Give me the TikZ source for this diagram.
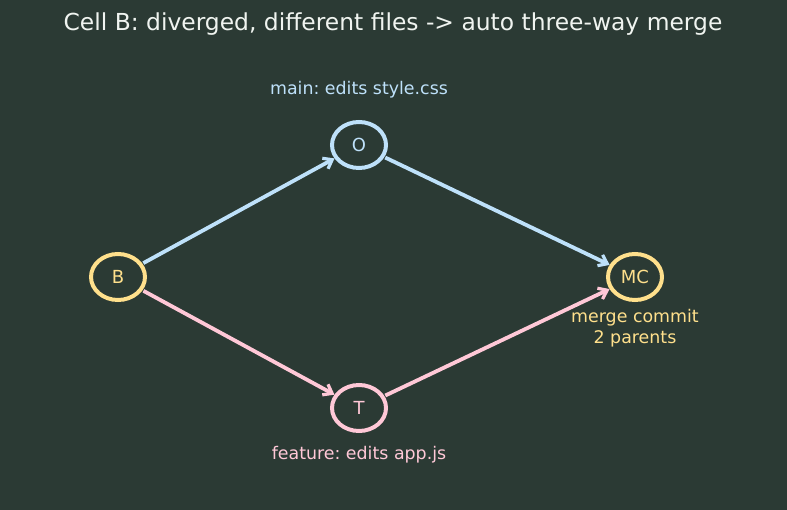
\documentclass[tikz,border=0pt]{standalone}
\usepackage{fontspec}
\setmainfont{DejaVu Sans}
\frenchspacing
\usetikzlibrary{arrows.meta,shapes.geometric}
\definecolor{bgc}{RGB}{43,58,52}
\definecolor{yel}{RGB}{255,224,140}
\definecolor{blu}{RGB}{190,225,250}
\definecolor{pnk}{RGB}{255,200,215}
\definecolor{ttl}{RGB}{240,244,240}
\begin{document}
\begin{tikzpicture}[x=1pt,y=-1pt,
  commit/.style={ellipse, draw=#1, line width=4pt, minimum width=54pt, minimum height=46pt, inner sep=0pt, text=#1, font=\fontsize{18}{20}\selectfont},
  edge/.style={draw=#1, line width=3.8pt, -{Straight Barb[length=8pt,width=12pt,line width=3.2pt]}, shorten <=1pt},
  lbl/.style={text=#1, font=\fontsize{17.4}{21}\selectfont, align=center}]
\fill[bgc] (0,0) rectangle (787,510);
\useasboundingbox (0,0) rectangle (787,510);
\node[text=ttl, font=\fontsize{23.4}{26}\selectfont] (title) at (393,24) {Cell B: diverged, different files -> auto three-way merge};
\node[commit=yel] (B) at (118,277) {B};
\node[commit=blu] (O) at (359,145) {O};
\node[commit=pnk] (T) at (359,408) {T};
\node[commit=yel] (MC) at (635,277) {MC};
\node[lbl=blu] (lo) at (359,90) {main: edits style.css};
\node[lbl=pnk] (lt) at (359,455) {feature: edits app.js};
\node[lbl=yel] (lm) at (635,328) {merge commit\\2 parents};
\draw[edge=blu] (B) -- (O);
\draw[edge=blu] (O) -- (MC);
\draw[edge=pnk] (B) -- (T);
\draw[edge=pnk] (T) -- (MC);
\end{tikzpicture}
\end{document}
